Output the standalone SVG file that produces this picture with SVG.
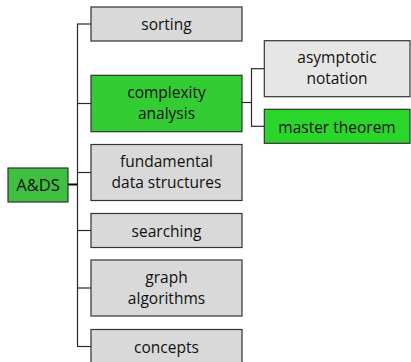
<svg xmlns="http://www.w3.org/2000/svg" width="411" height="362" viewBox="0 0 411 362">
<style>
  rect { stroke: #333; stroke-width: 1.2; }
  .g { fill: #d9d9d9; }
  .lg { fill: #e6e6e6; }
  .root { fill: #41bf41; }
  .grn { fill: #33cc33; }
  .mt { fill: #2bd62b; }
  text { font-family: "Open Sans", "Noto Sans", "DejaVu Sans", sans-serif; font-size: 15.5px; fill: #111; text-anchor: middle; }
  .big { font-size: 16.5px; }
  .conn line { stroke: #2a2a2a; stroke-width: 1.2; fill: none; }
  .conn .thick { stroke: #000; stroke-width: 2; }
</style>
<g class="conn" id="connectors">
  <line class="thick" x1="68" y1="184.5" x2="78" y2="184.5"/>
  <line x1="77.5" y1="24" x2="77.5" y2="346.5"/>
  <line x1="77" y1="24" x2="91" y2="24"/>
  <line x1="77" y1="103.5" x2="91" y2="103.5"/>
  <line x1="77" y1="172.5" x2="91" y2="172.5"/>
  <line x1="77" y1="230.5" x2="91" y2="230.5"/>
  <line x1="77" y1="288" x2="91" y2="288"/>
  <line x1="77" y1="346.5" x2="91" y2="346.5"/>
  <line x1="242" y1="102.5" x2="251.5" y2="102.5"/>
  <line x1="251.5" y1="68.7" x2="251.5" y2="126.3"/>
  <line x1="251" y1="68.7" x2="264" y2="68.7"/>
  <line x1="251" y1="126.3" x2="264" y2="126.3"/>
</g>
<g id="root">
  <rect class="root" x="8" y="168" width="60" height="34"/>
  <text class="big" x="38" y="191">A&amp;DS</text>
</g>
<g id="sorting">
  <rect class="g" x="91" y="7" width="151" height="34"/>
  <text x="166.5" y="30">sorting</text>
</g>
<g id="complexity">
  <rect class="grn" x="91" y="75.3" width="151" height="56.4"/>
  <text x="166.5" y="98">complexity</text>
  <text x="166.5" y="119">analysis</text>
</g>
<g id="fundamental">
  <rect class="g" x="91" y="144.5" width="151" height="56"/>
  <text x="166.5" y="167">fundamental</text>
  <text x="166.5" y="188">data structures</text>
</g>
<g id="searching">
  <rect class="g" x="91" y="213.5" width="151" height="34"/>
  <text x="166.5" y="236.5">searching</text>
</g>
<g id="graph">
  <rect class="g" x="91" y="260" width="151" height="56"/>
  <text x="166.5" y="282.5">graph</text>
  <text x="166.5" y="303.5">algorithms</text>
</g>
<g id="concepts">
  <rect class="g" x="91" y="329.5" width="151" height="34"/>
  <text x="166.5" y="352.5">concepts</text>
</g>
<g id="asymptotic">
  <rect class="lg" x="264.3" y="40.7" width="145.7" height="56"/>
  <text x="337" y="63">asymptotic</text>
  <text x="337" y="84">notation</text>
</g>
<g id="master">
  <rect class="mt" x="264.3" y="109.3" width="145.7" height="34"/>
  <text x="337" y="132.5">master theorem</text>
</g>
</svg>
